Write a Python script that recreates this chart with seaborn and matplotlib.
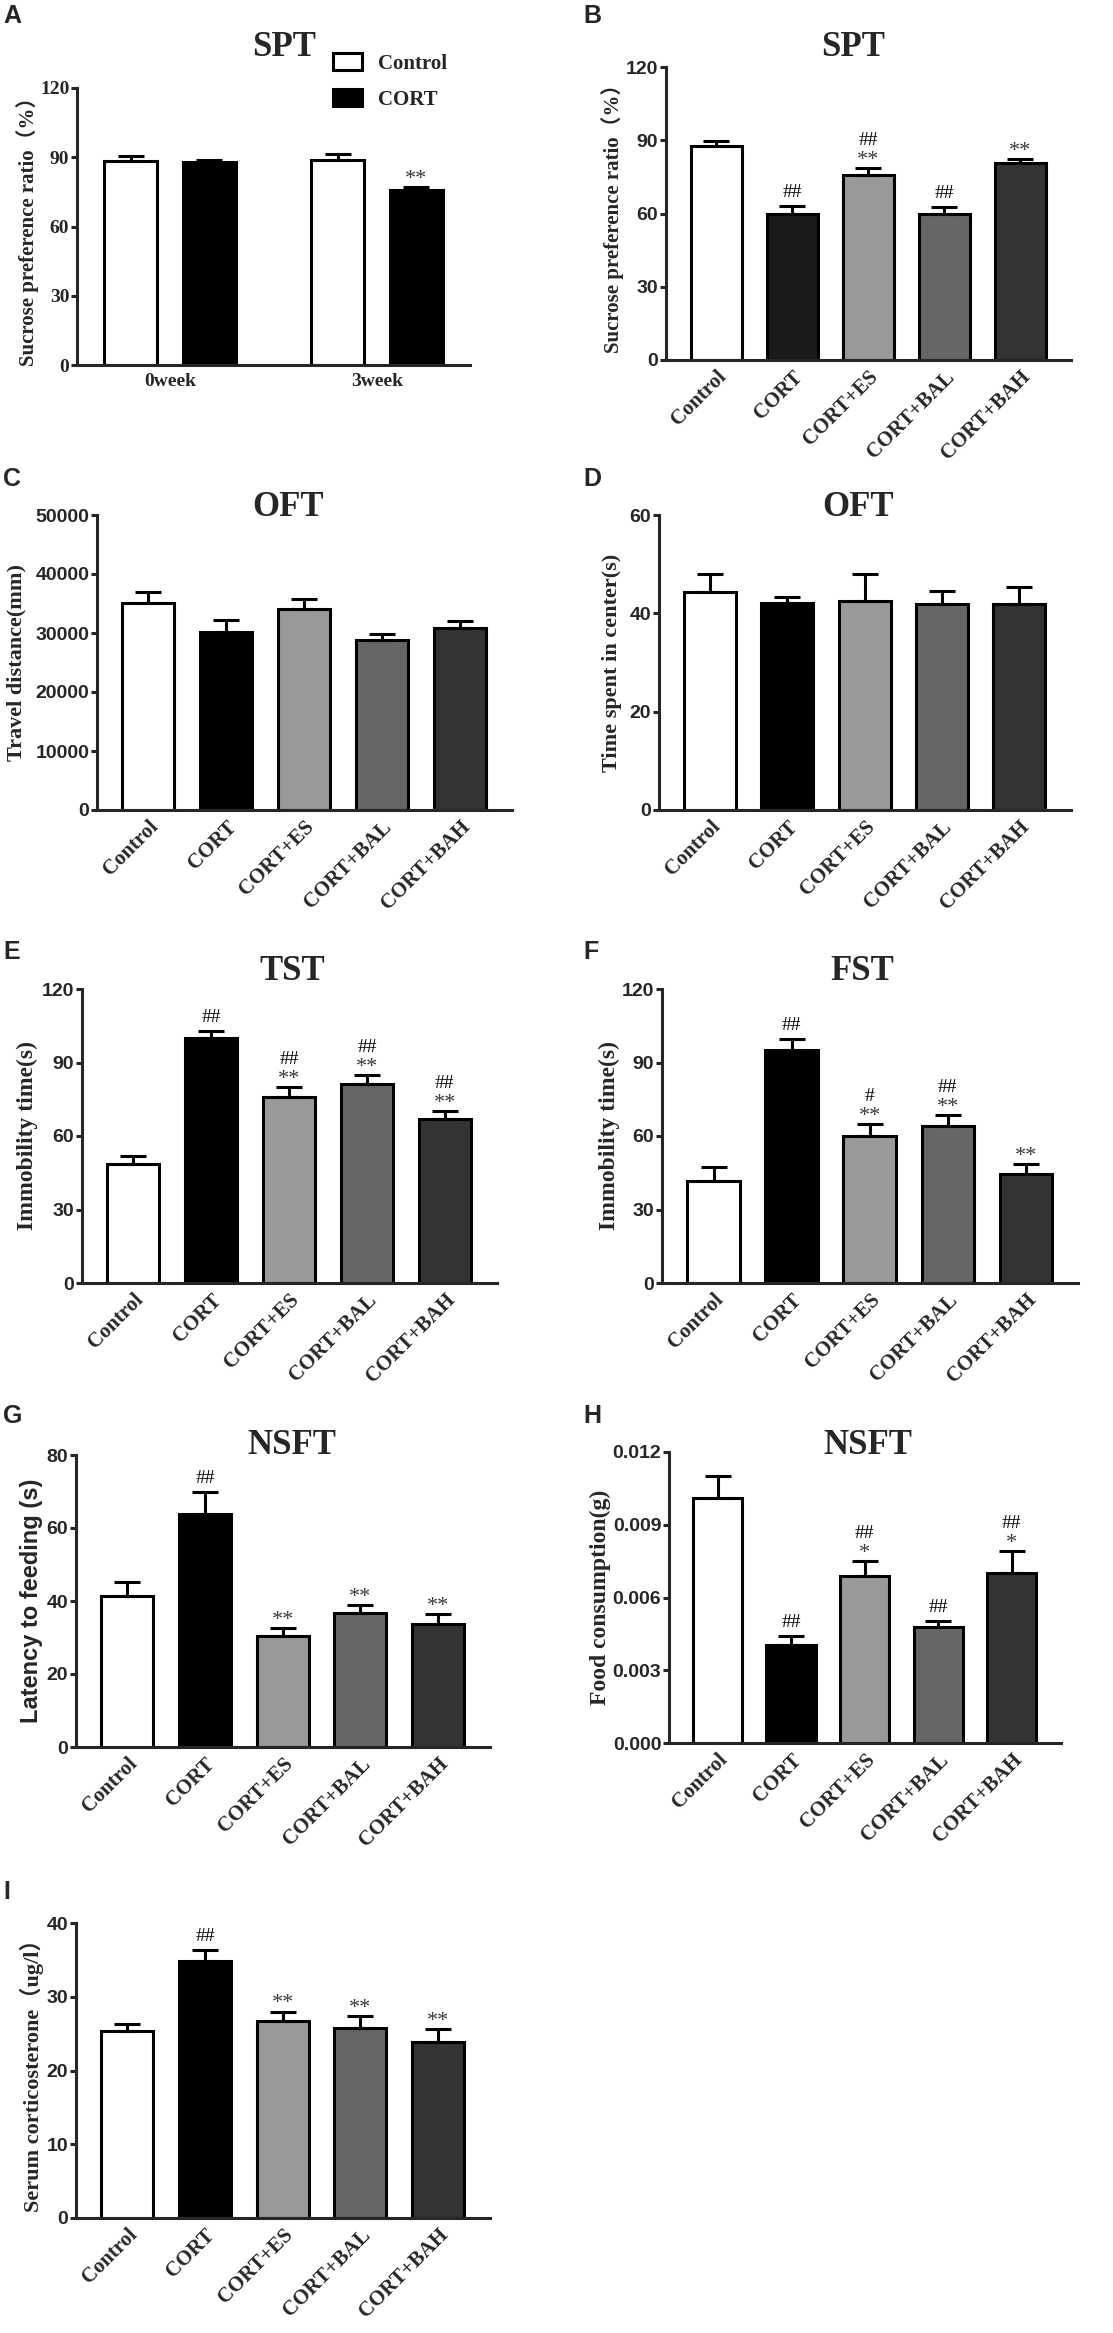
import numpy as np
import pandas as pd
import seaborn as sns
import matplotlib.pyplot as plt
from matplotlib.ticker import FormatStrFormatter

# ---- data (mean, upper SEM) ----
groups = ['Control', 'CORT', 'CORT+ES', 'CORT+BAL', 'CORT+BAH']

spt_weeks = ['0week', '3week']
spt_week_groups = ['Control', 'CORT']
spt_control_mean = [88.3, 88.7]
spt_control_sem = [2.3, 2.5]
spt_cort_mean = [88.0, 75.8]
spt_cort_sem = [1.0, 1.5]
spt_week_marks = {'Control': [[], []], 'CORT': [[], ['**']]}

spt_mean = [87.7, 60.0, 75.7, 60.0, 80.7]
spt_sem = [1.8, 3.0, 3.0, 2.8, 1.8]
spt_marks = [[], ['##'], ['**', '##'], ['##'], ['**']]

oft_dist_mean = [35100, 30200, 34100, 28800, 30800]
oft_dist_sem = [1900, 1950, 1700, 1000, 1300]

oft_center_mean = [44.3, 42.1, 42.6, 42.0, 41.9]
oft_center_sem = [3.7, 1.2, 5.3, 2.5, 3.4]

tst_mean = [48.4, 100.0, 76.1, 81.2, 67.0]
tst_sem = [3.4, 2.7, 3.7, 3.8, 3.4]
tst_marks = [[], ['##'], ['**', '##'], ['**', '##'], ['**', '##']]

fst_mean = [41.7, 95.3, 60.0, 64.1, 44.4]
fst_sem = [5.5, 4.1, 5.1, 4.4, 4.0]
fst_marks = [[], ['##'], ['**', '#'], ['**', '##'], ['**']]

latency_mean = [41.4, 63.8, 30.4, 36.6, 33.8]
latency_sem = [3.8, 6.0, 2.2, 2.3, 2.7]
latency_marks = [[], ['##'], ['**'], ['**'], ['**']]

food_mean = [0.0101, 0.00405, 0.0069, 0.0048, 0.0070]
food_sem = [0.0009, 0.00037, 0.0006, 0.00025, 0.0009]
food_marks = [[], ['##'], ['*', '##'], ['##'], ['*', '##']]

serum_mean = [25.3, 34.9, 26.7, 25.8, 23.8]
serum_sem = [1.05, 1.5, 1.3, 1.6, 1.8]
serum_marks = [[], ['##'], ['**'], ['**'], ['**']]

bar_colors = ['#ffffff', '#000000', '#999999', '#666666', '#333333']
bar_colors_b = ['#ffffff', '#1a1a1a', '#999999', '#666666', '#333333']

SERIF = 'Liberation Serif'
SANS = 'Liberation Sans'
SERIF_CJK = ['Liberation Serif', 'Noto Sans CJK SC']

sns.set_style('ticks')
plt.rcParams['font.family'] = ['Liberation Serif', 'Noto Sans CJK SC']
plt.rcParams['axes.linewidth'] = 2.2

W, H = 1113, 2333
fig = plt.figure(figsize=(W / 100, H / 100), dpi=100)
fig.patch.set_facecolor('white')


def px(x, y):
    return x / W, 1 - y / H


def panel(left, top, right, bottom):
    return fig.add_axes([left / W, 1 - bottom / H, (right - left) / W, (bottom - top) / H])


def style_axis(ax, ylim, yticks, tick_family):
    ax.set_ylim(ylim)
    ax.set_yticks(yticks)
    ax.spines['top'].set_visible(False)
    ax.spines['right'].set_visible(False)
    ax.tick_params(axis='y', direction='out', length=4.5, width=2.2, pad=1, labelsize=14)
    ax.tick_params(axis='x', length=0)
    for lab in ax.get_yticklabels():
        lab.set_fontfamily(tick_family)
        lab.set_fontweight('bold')
    ax.set_xlabel('')


def add_marks(ax, x, top, marks):
    if not marks:
        return
    base = 3 if marks[0].startswith('*') else 9
    for k, sym in enumerate(marks):
        star = sym.startswith('*')
        ax.annotate(sym, xy=(x, top), xytext=(0, (base + 20 * k) * 0.72), textcoords='offset points',
                    ha='center', va='baseline', fontsize=16 if star else 14, family=SERIF,
                    color='#3a3a3a' if star else 'black')


def set_ylabel(ax, text, size, family, x_px, left, right):
    ax.set_ylabel(text, fontsize=size, fontweight='bold', family=family, va='center')
    ax.yaxis.set_label_coords((x_px - left) / (right - left), 0.5)


def bar_panel(box, means, sems, marks, colors, ylim, yticks, ylabel, ylabel_x, ylabel_size=17,
              ylabel_family=SERIF, tick_family=SANS):
    left, top, right, bottom = box
    ax = panel(left, top, right, bottom)
    df = pd.DataFrame({'group': groups, 'value': means})
    sns.barplot(data=df, x='group', y='value', hue='group', palette=colors, saturation=1,
                width=0.67, edgecolor='black', linewidth=2.2, errorbar=None, legend=False, ax=ax)
    centers = [p.get_x() + p.get_width() / 2 for p in ax.patches]
    ax.errorbar(centers, means, yerr=[np.zeros(len(means)), sems], fmt='none', ecolor='black',
                elinewidth=2.2, capsize=9.5, capthick=2.2, zorder=3)
    for c, m, s, mk in zip(centers, means, sems, marks):
        add_marks(ax, c, m + s, mk)
    ax.set_xlim(-0.66, 4.67)
    style_axis(ax, ylim, yticks, tick_family)
    ax.set_xticks(range(len(groups)))
    ax.set_xticklabels(groups, rotation=45, ha='right', rotation_mode='anchor',
                       fontsize=15, fontweight='bold', family=SERIF)
    ax.tick_params(axis='x', pad=5)
    set_ylabel(ax, ylabel, ylabel_size, ylabel_family, ylabel_x, left, right)
    return ax


no_marks = [[]] * 5

# ---- A: SPT by week ----
a_left, a_top, a_right, a_bottom = 77, 88, 470, 365
ax_a = panel(a_left, a_top, a_right, a_bottom)
spt_df = pd.DataFrame({
    'week': spt_weeks * 2,
    'group': ['Control'] * 2 + ['CORT'] * 2,
    'ratio': spt_control_mean + spt_cort_mean,
})
sns.barplot(data=spt_df, x='week', y='ratio', hue='group', hue_order=spt_week_groups,
            palette=['#ffffff', '#000000'], saturation=1, width=0.76, gap=0.33,
            edgecolor='black', linewidth=2.2, errorbar=None, ax=ax_a)
for cont, g, sem in zip(ax_a.containers, spt_week_groups, [spt_control_sem, spt_cort_sem]):
    xs = [b.get_x() + b.get_width() / 2 for b in cont]
    hs = [b.get_height() for b in cont]
    ax_a.errorbar(xs, hs, yerr=[np.zeros(len(hs)), sem], fmt='none', ecolor='black',
                  elinewidth=2.2, capsize=9.5, capthick=2.2, zorder=3)
    for x, h, s, mk in zip(xs, hs, sem, spt_week_marks[g]):
        add_marks(ax_a, x, h + s, mk)
ax_a.set_xlim(-0.45, 1.45)
style_axis(ax_a, (0, 120), [0, 30, 60, 90, 120], SERIF)
for lab in ax_a.get_xticklabels():
    lab.set_fontsize(14)
    lab.set_fontweight('bold')
    lab.set_fontfamily(SERIF)
ax_a.tick_params(axis='x', pad=6)
set_ylabel(ax_a, 'Sucrose preference ratio（%）', 15, SERIF_CJK, 28, a_left, a_right)
handles = [ax_a.containers[0][0], ax_a.containers[1][0]]
ax_a.legend(handles, spt_week_groups, frameon=False, loc='upper left',
            bbox_to_anchor=px(333, 53), bbox_transform=fig.transFigure,
            prop={'family': SERIF, 'weight': 'bold', 'size': 15},
            handlelength=1.4, handleheight=0.85, handletextpad=0.75, labelspacing=0.75,
            borderpad=0, borderaxespad=0)

# ---- B-I ----
bar_panel((666, 67, 1071, 360), spt_mean, spt_sem, spt_marks, bar_colors_b, (0, 120),
          [0, 30, 60, 90, 120], 'Sucrose preference ratio（%）', 613, ylabel_size=15,
          ylabel_family=SERIF_CJK)
bar_panel((97, 515, 512, 810), oft_dist_mean, oft_dist_sem, no_marks, bar_colors, (0, 50000),
          [0, 10000, 20000, 30000, 40000, 50000], 'Travel distance(mm)', 16, ylabel_size=16)
bar_panel((659, 515, 1071, 810), oft_center_mean, oft_center_sem, no_marks, bar_colors, (0, 60),
          [0, 20, 40, 60], 'Time spent in center(s)', 612, ylabel_size=16)
bar_panel((82, 989, 497, 1283), tst_mean, tst_sem, tst_marks, bar_colors, (0, 120),
          [0, 30, 60, 90, 120], 'Immobility time(s)', 27)
bar_panel((662, 989, 1078, 1283), fst_mean, fst_sem, fst_marks, bar_colors, (0, 120),
          [0, 30, 60, 90, 120], 'Immobility time(s)', 609)
bar_panel((76, 1455, 490, 1747), latency_mean, latency_sem, latency_marks, bar_colors, (0, 80),
          [0, 20, 40, 60, 80], 'Latency to feeding (s)', 32, ylabel_family=SANS)
ax_h = bar_panel((669, 1452, 1061, 1743), food_mean, food_sem, food_marks, bar_colors, (0, 0.012),
                 [0, 0.003, 0.006, 0.009, 0.012], 'Food consumption(g)', 600)
ax_h.yaxis.set_major_formatter(FormatStrFormatter('%.3f'))
for lab in ax_h.get_yticklabels():
    lab.set_fontfamily(SANS)
    lab.set_fontweight('bold')
bar_panel((76, 1923, 490, 2218), serum_mean, serum_sem, serum_marks, bar_colors, (0, 40),
          [0, 10, 20, 30, 40], 'Serum corticosterone（ug/l）', 32, ylabel_size=16,
          ylabel_family=SERIF_CJK)

# ---- titles and panel letters ----
titles = [('SPT', 284, 47), ('SPT', 853, 47), ('OFT', 288, 508), ('OFT', 858, 508),
          ('TST', 292, 972), ('FST', 862, 972), ('NSFT', 292, 1445), ('NSFT', 868, 1445)]
for text, x, y in titles:
    fig.text(*px(x, y), text, ha='center', va='center', fontsize=25, fontweight='bold', family=SERIF)

letters = [('A', 3, 16), ('B', 583, 16), ('C', 3, 479), ('D', 583, 479), ('E', 3, 952),
           ('F', 583, 952), ('G', 3, 1416), ('H', 583, 1416), ('I', 3, 1892)]
for text, x, y in letters:
    fig.text(*px(x, y), text, ha='left', va='center', fontsize=18, fontweight='bold', family=SANS)

fig.savefig('out.png', dpi=100, facecolor='white')
